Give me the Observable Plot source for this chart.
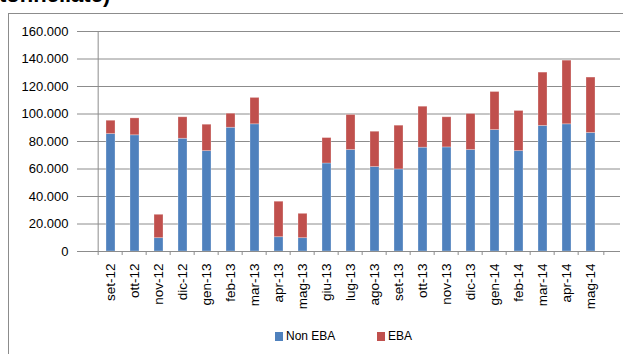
<!DOCTYPE html>
<html>
<head>
<meta charset="utf-8">
<script src="https://cdn.jsdelivr.net/npm/d3@7"></script>
<script src="https://cdn.jsdelivr.net/npm/@observablehq/plot@0.6"></script>
<style>
  body { margin: 0; background: #fff; width: 623px; height: 354px; overflow: hidden; position: relative; font-family: "Liberation Sans", Arial, sans-serif; }
  #frame { position: absolute; left: 8px; top: 13px; width: 700px; height: 400px; border: 1px solid #8c8c8c; box-sizing: border-box; }
  #title { position: absolute; left: -1px; top: -16px; font-size: 22px; font-weight: bold; line-height: 22px; color: #000; white-space: nowrap; }
  #chart { position: absolute; left: 0; top: 0; }
  .leg { position: absolute; top: 329px; font-size: 12px; line-height: 14px; color: #000; display: flex; align-items: center; }
  .sw { width: 8px; height: 9px; margin-right: 3px; display: inline-block; }
</style>
</head>
<body>
<div id="frame"></div>
<div id="title">tonnellate)</div>
<div id="chart"></div>
<div class="leg" style="left:275px"><span class="sw" style="background:#4F81BD"></span>Non EBA</div>
<div class="leg" style="left:377px"><span class="sw" style="background:#C0504D"></span>EBA</div>
<script>
const months = ["set-12","ott-12","nov-12","dic-12","gen-13","feb-13","mar-13","apr-13","mag-13","giu-13","lug-13","ago-13","set-13","ott-13","nov-13","dic-13","gen-14","feb-14","mar-14","apr-14","mag-14"];
const nonEBA = [85400, 84500, 9700, 82000, 73000, 90000, 92500, 10400, 9700, 64000, 73800, 61400, 59700, 75500, 75700, 73800, 88300, 73000, 91300, 92500, 86200];
const EBA    = [9700, 12300, 17000, 15600, 19200, 10200, 19200, 25800, 17700, 18500, 25500, 25700, 31800, 29800, 21900, 26200, 27700, 29200, 38800, 46300, 40300];
const yTicks = [0, 20000, 40000, 60000, 80000, 100000, 120000, 140000, 160000];
const seriesNames = ["Non EBA", "EBA"];
const colors = ["#4F81BD", "#C0504D"];

const data = [];
months.forEach((m, i) => {
  data.push({month: m, series: seriesNames[0], value: nonEBA[i]});
  data.push({month: m, series: seriesNames[1], value: EBA[i]});
});

const W = 623, mL = 81, mR = 3;
const bw = (W - mL - mR) / months.length;
const fmt = d => String(Math.round(d)).replace(/(\d)(?=(\d{3})+$)/g, "$1.");

const chart = Plot.plot({
  width: W,
  height: 311,
  marginLeft: mL,
  marginRight: mR,
  marginTop: 31,
  marginBottom: 60,
  style: {fontFamily: "Liberation Sans, Arial, sans-serif", fontSize: "12px", color: "#000", background: "transparent"},
  x: {domain: months, padding: 0.62, label: null},
  y: {domain: [0, 160000], label: null, tickFormat: fmt},
  color: {domain: seriesNames, range: colors},
  marks: [
    Plot.gridY(yTicks, {stroke: "#8c8c8c", strokeOpacity: 1, strokeWidth: 1}),
    Plot.barY(data, {x: "month", y: "value", fill: "series", order: seriesNames, stroke: "#ffffff", strokeOpacity: 0.35, strokeWidth: 0.8}),
    Plot.axisY(yTicks, {tickFormat: fmt, tickSize: 4, tickPadding: 9, stroke: "#8c8c8c", fontSize: 13}),
    Plot.ruleX([0], {x: () => months[0], dx: -bw / 2, y1: 0, y2: 160000, stroke: "#8c8c8c"}),
    Plot.ruleY([0], {stroke: "#8c8c8c"}),
    Plot.axisX({tickFormat: () => "", tickSize: 4, dx: -bw / 2, stroke: "#8c8c8c"}),
    Plot.axisX({ticks: [months[months.length - 1]], tickFormat: () => "", tickSize: 4, dx: bw / 2, stroke: "#8c8c8c"}),
    Plot.axisX({tickSize: 0, tickRotate: -90, tickPadding: 12, fontSize: 13.5})
  ]
});
document.getElementById("chart").appendChild(chart);
</script>
</body>
</html>
